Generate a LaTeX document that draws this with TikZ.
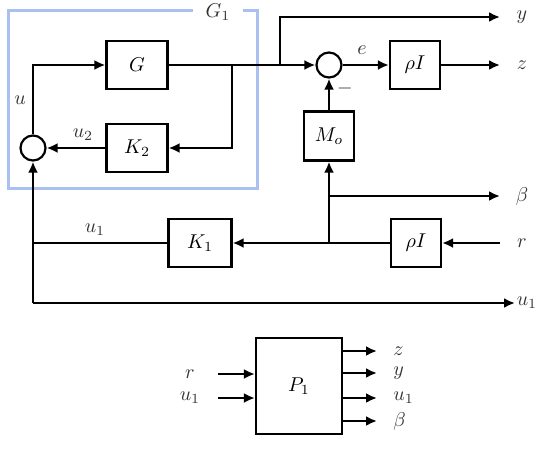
\documentclass[tikz,border=0pt]{standalone}
\usetikzlibrary{arrows.meta}
\definecolor{frameblue}{RGB}{170,192,240}
\tikzset{
	block/.style={draw, line width=1.1pt, minimum height=24pt, inner sep=0pt},
	sumnode/.style={draw, circle, line width=1.1pt, minimum size=12.5pt, inner sep=0pt},
	wire/.style={line width=1.1pt},
	sig/.style={text=black!80, inner sep=0pt},
}
\begin{document}
\begin{tikzpicture}[x=0.5pt,y=-0.5pt,>={Latex[length=5.5pt,width=5pt]}]
	\useasboundingbox (0,0) rectangle (545,450);
	% frame of G_1
	\draw[frameblue, line width=1.5pt] (193,10) -- (8,10) -- (8,188) -- (257,188) -- (257,10) -- (243,10);
	\node[sig] (lG1) at (218,12) {$G_1$};
	% blocks
	\node[block, minimum width=30.5pt] (G) at (137,65) {$G$};
	\node[block, minimum width=30.5pt] (K2) at (137,148) {$K_2$};
	\node[sumnode] (s1) at (33,148) {};
	\node[sumnode] (s2) at (329,65) {};
	\node[block, minimum width=25pt] (rho1) at (415,65) {$\rho I$};
	\node[block, minimum width=25pt, minimum height=24.5pt] (Mo) at (329,136) {$M_o$};
	\node[block, minimum width=31.5pt] (K1) at (200,243) {$K_1$};
	\node[block, minimum width=25pt] (rho2) at (416,243) {$\rho I$};
	% branch points and free ends
	\coordinate (b1) at (232,65);
	\coordinate (b2) at (280,65);
	\coordinate (j1) at (329,243);
	\coordinate (j2) at (329,196);
	\coordinate (c1) at (33,243);
	\coordinate (c2) at (33,303);
	\coordinate (yout) at (500,17);
	\coordinate (zout) at (500,65);
	\coordinate (bout) at (500,196);
	\coordinate (rin) at (500,243);
	\coordinate (uout) at (515,303);
	% wires
	\draw[wire,->] (s1) |- (G);
	\draw[wire,->] (G) -- (s2);
	\draw[wire,->] (b1) |- (K2);
	\draw[wire,->] (K2) -- (s1);
	\draw[wire,->] (b2) |- (yout);
	\draw[wire,->] (s2) -- (rho1);
	\draw[wire,->] (rho1) -- (zout);
	\draw[wire,->] (Mo) -- (s2);
	\draw[wire,->] (j1) -- (Mo);
	\draw[wire,->] (j2) -- (bout);
	\draw[wire,->] (rin) -- (rho2);
	\draw[wire,->] (rho2) -- (K1);
	\draw[wire] (K1) -- (c1);
	\draw[wire,->] (c2) -- (s1);
	\draw[wire,->] (c2) -- (uout);
	% signal labels
	\node[sig] (lu) at (20,100) {$u$};
	\node[sig] (lu2) at (83,135) {$u_2$};
	\node[sig] (le) at (362,50) {$e$};
	\node[sig] (lm) at (345,88) {$-$};
	\node[sig] (lu1) at (95,230) {$u_1$};
	\node[sig] (ly) at (522,17) {$y$};
	\node[sig] (lz) at (522,65) {$z$};
	\node[sig] (lb) at (522,196) {$\beta$};
	\node[sig] (lr) at (522,243) {$r$};
	\node[sig] (luo) at (527,303) {$u_1$};
	% compact form
	\node[block, minimum width=43pt, minimum height=48pt] (P1) at (299,386) {$P_1$};
	\foreach \yy/\lab [count=\i] in {374/r,398/u_1} {
		\coordinate (pi\i) at (218,\yy);
		\draw[wire,->] (pi\i) -- (P1.west |- pi\i);
		\node[sig] (lpi\i) at (190,\yy) {$\lab$};
	}
	\foreach \yy/\lab [count=\i] in {351/z,373/y,398/u_1,421/\beta} {
		\coordinate (po\i) at (377,\yy);
		\draw[wire,->] (P1.east |- po\i) -- (po\i);
		\node[sig, anchor=west] (lpo\i) at (393,\yy) {$\lab$};
	}
\end{tikzpicture}
\end{document}
